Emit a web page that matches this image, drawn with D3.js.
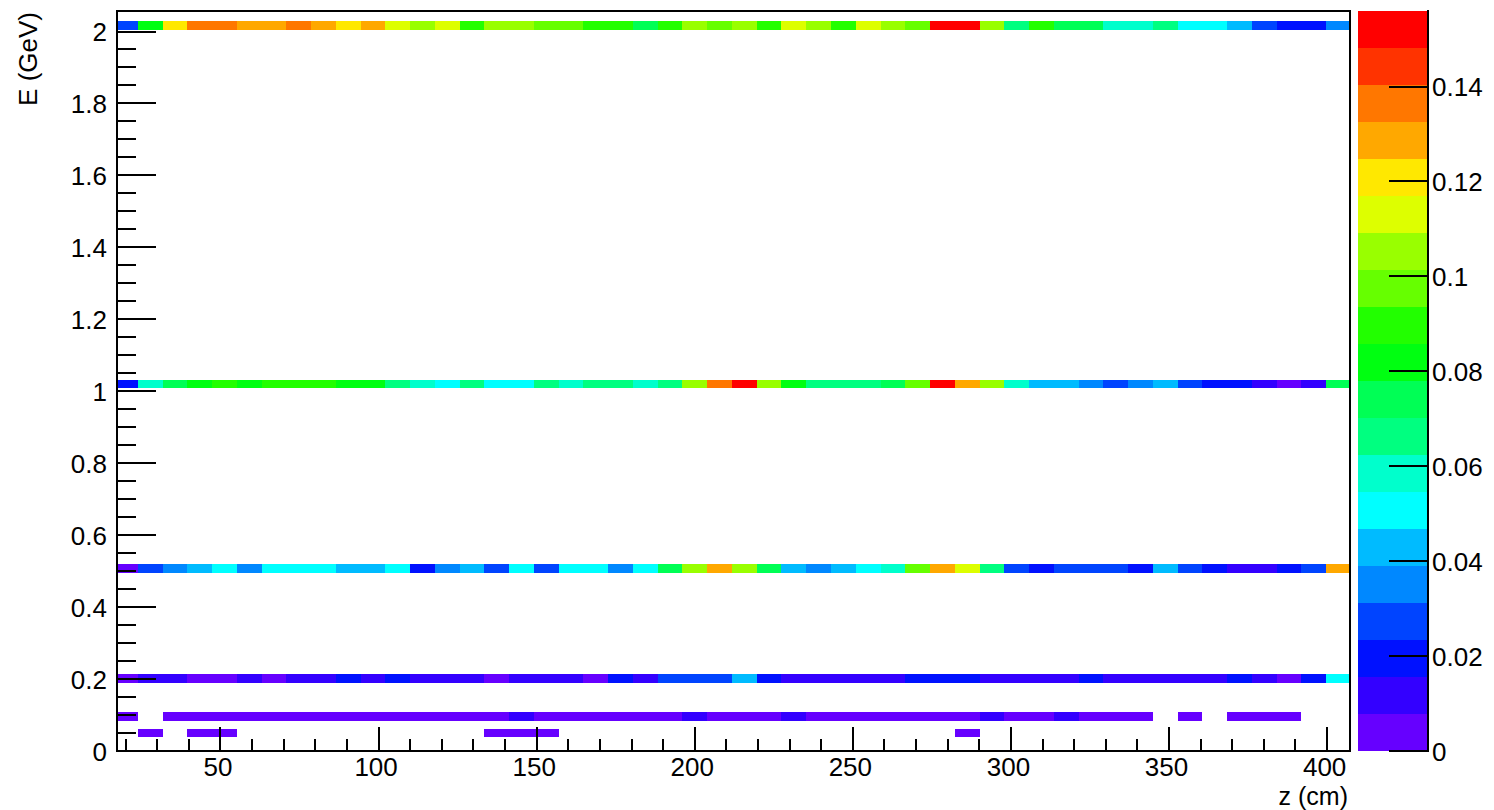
<!DOCTYPE html>
<html>
<head>
<meta charset="utf-8">
<script src="https://cdn.jsdelivr.net/npm/d3@7"></script>
<style>
  body { margin: 0; background: #fff; }
  text { font-family: "Liberation Sans", Arial, Helvetica, sans-serif; fill: #000; }
</style>
</head>
<body>
<div id="graph"></div>
<script>
var width = 1494;
var height = 810;
var frame = { left: 117, right: 1350, top: 11, bottom: 750.7 };
var bar = { left: 1358, right: 1427 };

// axis ranges
var zRange = [17.43, 407.4];     // cm
var eRange = [0, 2.0556];        // GeV
var cMax = 0.1558;               // top of the colour scale

// z binning: 50 bins, the first one partly hidden under the frame
var zFirstEdge = 16.24;
var zBinWidth = 7.828;

// energy rows (nominal E, lower edge of the filled bin, bin height)
var rowE = [2.0, 1.0, 0.5, 0.2, 0.1, 0.05];
var rowLow = [2.004, 1.008, 0.494, 0.189, 0.083, 0.037];
var rowHeight = 0.0235;

// bin contents along z, one array per energy row (0 = empty bin)
var row2000 = [0.027, 0.082, 0.121, 0.136, 0.136, 0.129, 0.129, 0.136, 0.129, 0.121,
               0.129, 0.113, 0.105, 0.113, 0.090, 0.105, 0.105, 0.097, 0.097, 0.090,
               0.090, 0.074, 0.090, 0.105, 0.097, 0.105, 0.090, 0.113, 0.105, 0.090,
               0.113, 0.105, 0.097, 0.152, 0.152, 0.105, 0.066, 0.090, 0.074, 0.074,
               0.058, 0.058, 0.066, 0.051, 0.051, 0.043, 0.027, 0.019, 0.019, 0.035];
var row1000 = [0.019, 0.058, 0.074, 0.082, 0.090, 0.082, 0.090, 0.090, 0.090, 0.082,
               0.082, 0.066, 0.058, 0.051, 0.066, 0.051, 0.051, 0.066, 0.058, 0.066,
               0.066, 0.058, 0.066, 0.105, 0.136, 0.152, 0.105, 0.082, 0.066, 0.066,
               0.066, 0.074, 0.097, 0.152, 0.129, 0.105, 0.058, 0.043, 0.043, 0.035,
               0.027, 0.035, 0.043, 0.027, 0.019, 0.019, 0.012, 0.004, 0.012, 0.074];
var row500 = [0.004, 0.027, 0.035, 0.043, 0.051, 0.035, 0.051, 0.051, 0.051, 0.043,
              0.043, 0.051, 0.019, 0.035, 0.043, 0.027, 0.051, 0.027, 0.051, 0.051,
              0.035, 0.051, 0.074, 0.105, 0.129, 0.105, 0.074, 0.043, 0.035, 0.043,
              0.051, 0.058, 0.097, 0.129, 0.113, 0.066, 0.027, 0.019, 0.027, 0.027,
              0.027, 0.019, 0.043, 0.027, 0.019, 0.012, 0.012, 0.019, 0.027, 0.129];
var row200 = [0.004, 0.012, 0.012, 0.004, 0.004, 0.012, 0.004, 0.012, 0.012, 0.019,
              0.012, 0.019, 0.012, 0.012, 0.012, 0.004, 0.012, 0.012, 0.012, 0.004,
              0.019, 0.012, 0.027, 0.027, 0.027, 0.043, 0.019, 0.012, 0.012, 0.012,
              0.012, 0.012, 0.019, 0.019, 0.019, 0.012, 0.012, 0.012, 0.012, 0.019,
              0.012, 0.012, 0.012, 0.012, 0.012, 0.019, 0.012, 0.004, 0.019, 0.051];
var row100 = [0.004, 0, 0.004, 0.004, 0.004, 0.004, 0.004, 0.004, 0.004, 0.004,
              0.004, 0.004, 0.004, 0.004, 0.004, 0.004, 0.012, 0.004, 0.004, 0.004,
              0.004, 0.004, 0.004, 0.012, 0.004, 0.004, 0.004, 0.012, 0.004, 0.004,
              0.004, 0.004, 0.004, 0.004, 0.004, 0.012, 0.004, 0.004, 0.012, 0.004,
              0.004, 0.004, 0, 0.004, 0, 0.004, 0.004, 0.004, 0, 0];
var row050 = [0, 0.004, 0, 0.004, 0.004, 0, 0, 0, 0, 0,
              0, 0, 0, 0, 0, 0.004, 0.004, 0.004, 0, 0,
              0, 0, 0, 0, 0, 0, 0, 0, 0, 0,
              0, 0, 0, 0, 0.004, 0, 0, 0, 0, 0,
              0, 0, 0, 0, 0, 0, 0, 0, 0, 0];
var rows = [row2000, row1000, row500, row200, row100, row050];

// tick values and labels
var zTicks = [50, 100, 150, 200, 250, 300, 350, 400];
var zMinorTicks = d3.range(20, 401, 10);
var eTicks = [0, 0.2, 0.4, 0.6, 0.8, 1, 1.2, 1.4, 1.6, 1.8, 2];
var eMinorTicks = d3.range(0, 2.001, 0.05);
var colorTicks = [0, 0.02, 0.04, 0.06, 0.08, 0.1, 0.12, 0.14];

// 20-level rainbow palette, lowest first
var palette = ["#6600ff", "#3300ff", "#0011ff", "#0044ff", "#0088ff",
               "#00bbff", "#00ffff", "#00ffcc", "#00ff80", "#00ff55",
               "#00ff11", "#22ff00", "#66ff00", "#99ff00", "#ddff00",
               "#ffe800", "#ffa800", "#ff7700", "#ff3300", "#ff0000"];

var fontSize = 26;

function styleAxis(g) {
  g.select(".domain").remove();
  g.selectAll(".tick line")
    .attr("stroke", "#000")
    .attr("stroke-width", 2)
    .attr("shape-rendering", "crispEdges");
  g.selectAll(".tick text")
    .attr("font-size", fontSize)
    .attr("font-family", null);
}

function start() {
  var svg = d3.select("#graph")
    .append("svg")
    .attr("width", width)
    .attr("height", height);

  svg.append("rect")
    .attr("width", width)
    .attr("height", height)
    .attr("fill", "#fff");

  var xScale = d3.scaleLinear().domain(zRange).range([frame.left, frame.right]);
  var yScale = d3.scaleLinear().domain(eRange).range([frame.bottom, frame.top]);
  var cScale = d3.scaleLinear().domain([0, cMax]).range([frame.bottom, frame.top]);
  var colorScale = d3.scaleQuantize().domain([0, cMax]).range(palette);

  svg.append("clipPath")
    .attr("id", "plotclip")
    .append("rect")
    .attr("x", frame.left)
    .attr("y", frame.top)
    .attr("width", frame.right - frame.left)
    .attr("height", frame.bottom - frame.top);

  // flatten the rows into cells
  var cells = [];
  rows.forEach(function (vals, r) {
    vals.forEach(function (v, i) {
      if (v > 0) {
        cells.push({
          row: r,
          z0: zFirstEdge + i * zBinWidth,
          z1: zFirstEdge + (i + 1) * zBinWidth,
          e0: rowLow[r],
          e1: rowLow[r] + rowHeight,
          value: v
        });
      }
    });
  });

  svg.append("g")
    .attr("clip-path", "url(#plotclip)")
    .selectAll("rect")
    .data(cells)
    .enter()
    .append("rect")
    .attr("x", function (d) { return xScale(d.z0); })
    .attr("width", function (d) { return xScale(d.z1) - xScale(d.z0); })
    .attr("y", function (d) { return yScale(d.e1); })
    .attr("height", function (d) { return yScale(d.e0) - yScale(d.e1); })
    .attr("fill", function (d) { return colorScale(d.value); })
    .attr("shape-rendering", "crispEdges");

  // x axis: ticks point up into the frame
  svg.append("g")
    .attr("transform", "translate(0," + frame.bottom + ")")
    .call(d3.axisBottom(xScale).tickValues(zMinorTicks).tickSize(-12).tickFormat(""))
    .call(styleAxis);
  svg.append("g")
    .attr("transform", "translate(0," + frame.bottom + ")")
    .call(d3.axisBottom(xScale).tickValues(zTicks).tickSize(-24).tickPadding(7)
            .tickFormat(d3.format("d")))
    .call(styleAxis)
    .selectAll(".tick text")
    .attr("dx", -2.5);

  // y axis: ticks point right into the frame
  svg.append("g")
    .attr("transform", "translate(" + frame.left + ",0)")
    .call(d3.axisLeft(yScale).tickValues(eMinorTicks).tickSize(-19).tickFormat(""))
    .call(styleAxis);
  svg.append("g")
    .attr("transform", "translate(" + frame.left + ",0)")
    .call(d3.axisLeft(yScale).tickValues(eTicks).tickSize(-39).tickPadding(10)
            .tickFormat(d3.format("~g")))
    .call(styleAxis)
    .selectAll(".tick text")
    .attr("dy", "0.37em");

  // frame
  svg.append("rect")
    .attr("x", frame.left)
    .attr("y", frame.top)
    .attr("width", frame.right - frame.left)
    .attr("height", frame.bottom - frame.top)
    .attr("fill", "none")
    .attr("stroke", "#000")
    .attr("stroke-width", 2)
    .attr("shape-rendering", "crispEdges");

  // colour bar
  var step = cMax / palette.length;
  svg.append("g")
    .selectAll("rect")
    .data(palette)
    .enter()
    .append("rect")
    .attr("x", bar.left)
    .attr("width", bar.right - bar.left)
    .attr("y", function (d, i) { return cScale((i + 1) * step); })
    .attr("height", function (d, i) { return cScale(i * step) - cScale((i + 1) * step); })
    .attr("fill", function (d) { return d; })
    .attr("shape-rendering", "crispEdges");

  svg.append("line")
    .attr("x1", bar.right + 1)
    .attr("x2", bar.right + 1)
    .attr("y1", frame.top - 1)
    .attr("y2", frame.bottom + 1)
    .attr("stroke", "#000")
    .attr("stroke-width", 2)
    .attr("shape-rendering", "crispEdges");

  svg.append("g")
    .attr("transform", "translate(" + (bar.right + 1) + ",0)")
    .call(d3.axisRight(cScale).tickValues(colorTicks).tickSize(-39).tickPadding(4)
            .tickFormat(d3.format("~g")))
    .call(styleAxis)
    .selectAll(".tick text")
    .attr("dy", "0.37em");

  // axis titles
  svg.append("text")
    .attr("x", 1348)
    .attr("y", 804.5)
    .attr("text-anchor", "end")
    .attr("font-size", 25)
    .text("z (cm)");

  svg.append("text")
    .attr("transform", "translate(37,12) rotate(-90)")
    .attr("text-anchor", "end")
    .attr("font-size", fontSize)
    .text("E (GeV)");
}

start();
</script>
</body>
</html>
